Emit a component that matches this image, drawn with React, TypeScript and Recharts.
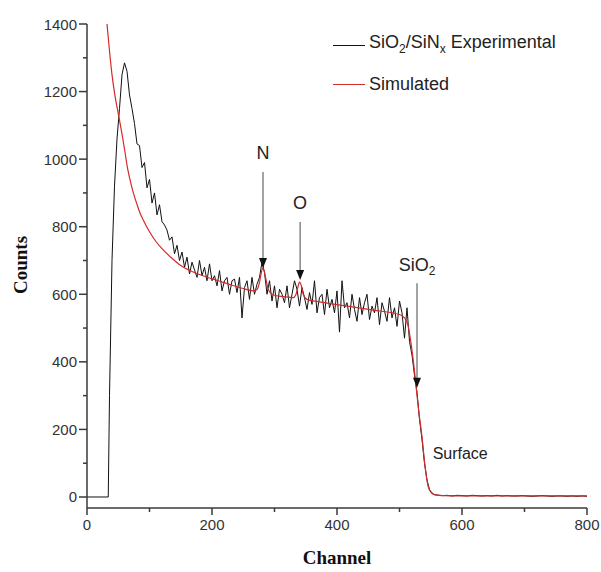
import { LineChart, Line, XAxis, YAxis, ReferenceLine, ReferenceDot, Label } from "recharts";

// experimental spectrum (black): flat start, then counts every 4 channels from 36, then tail every 8 channels from 560
const expLeadChannels = [0, 34];
const expLeadCounts = [0, 0];
const expStart = 36;
const expStep = 4;
const expCounts = [
  300, 700, 920, 1060, 1150, 1250, 1285, 1260, 1190, 1150,
  1105, 1045, 1040, 975, 990, 915, 940, 870, 900, 835,
  865, 815, 805, 790, 760, 770, 720, 745, 700, 725,
  680, 710, 660, 695, 672, 650, 700, 655, 680, 640,
  690, 640, 655, 625, 670, 610, 640, 650, 600, 640,
  645, 605, 650, 530, 620, 640, 585, 650, 600, 630,
  650, 695, 665, 600, 640, 580, 625, 560, 615, 600,
  575, 625, 560, 600, 640, 615, 565, 620, 590, 555,
  605, 570, 640, 545, 590, 600, 540, 615, 560, 585,
  545, 610, 488, 640, 560, 575, 530, 600, 555, 520,
  590, 540, 575, 600, 525, 565, 545, 590, 510, 575,
  550, 520, 590, 530, 560, 505, 580, 545, 470, 560,
  460, 420, 360, 310, 230, 170, 100, 50, 22, 12, 7,
];
const tailStart = 560;
const tailStep = 8;
const tailCounts = [
  6, 4, 5, 3, 5, 4, 3, 5, 4, 3, 4, 3, 5, 3, 4, 3,
  3, 4, 3, 2, 3, 4, 3, 2, 3, 3, 2, 3, 2, 3, 2,
];

// simulated spectrum (red)
const simChannels = [
  32, 36, 40, 45, 50, 55, 60, 65, 70, 75, 80, 85, 90, 100, 110, 120, 135, 150,
  170, 190, 210, 230, 250, 266, 272, 276, 279, 281, 284, 287, 290, 298, 315,
  330, 334, 337, 340, 343, 346, 352, 370, 405, 458, 500, 508, 514, 517, 521,
  525, 530, 536, 541, 546, 551, 557, 570, 600, 700, 800,
];
const simCounts = [
  1400, 1320, 1250, 1185, 1135, 1085, 1030, 972, 930, 895, 866, 840, 820, 785,
  757, 735, 708, 685, 666, 652, 640, 628, 617, 610, 614, 635, 665, 677, 665,
  638, 615, 598, 593, 590, 598, 618, 636, 625, 600, 585, 578, 568, 553, 540,
  530, 505, 473, 420, 355, 266, 178, 89, 30, 12, 6, 4, 3, 3, 3,
];

const xTicks = [0, 100, 200, 300, 400, 500, 600, 700, 800];
const yTicks = [0, 100, 200, 300, 400, 500, 600, 700, 800, 900, 1000, 1100, 1200, 1300, 1400];

const expData = [
  ...expLeadChannels.map((ch, i) => ({ ch, v: expLeadCounts[i] })),
  ...expCounts.map((v, i) => ({ ch: expStart + i * expStep, v })),
  ...tailCounts.map((v, i) => ({ ch: tailStart + i * tailStep, v })),
];
const simData = simChannels.map((ch, i) => ({ ch, v: simCounts[i] }));

const AXIS = "#3a3a3a";
const SANS = "'Liberation Sans', Arial, sans-serif";
const SERIF = "'Liberation Serif', 'Times New Roman', serif";

const XTick = ({ x, y, payload }: any) => {
  const major = payload.value % 200 === 0;
  return (
    <g>
      <line x1={x} x2={x} y1={y} y2={y + (major ? 7 : 4)} stroke={AXIS} strokeWidth={1.5} />
      {major && (
        <text x={x} y={y + 16} textAnchor="middle" dominantBaseline="central" fontSize={15} fill="#333" fontFamily={SANS}>
          {payload.value}
        </text>
      )}
    </g>
  );
};

const YTick = ({ x, y, payload }: any) => {
  const major = payload.value % 200 === 0;
  return (
    <g>
      <line x1={x} x2={x - (major ? 8 : 4)} y1={y} y2={y} stroke={AXIS} strokeWidth={1.5} />
      {major && (
        <text x={x - 10} y={y} textAnchor="end" dominantBaseline="central" fontSize={15} fill="#333" fontFamily={SANS}>
          {payload.value}
        </text>
      )}
    </g>
  );
};

const arrowHead = ({ cx, cy }: any) => (
  <polygon points={`${cx - 4},${cy - 10} ${cx + 4},${cy - 10} ${cx},${cy}`} fill="#111" />
);

const textAt = (content: React.ReactNode, size = 17, anchor = "middle") =>
  ({ cx, cy }: any) => (
    <text x={cx} y={cy} textAnchor={anchor} dominantBaseline="central" fontSize={size} fill="#222" fontFamily={SANS}>
      {content}
    </text>
  );

export default function App() {
  return (
    <div style={{ position: "absolute", left: 0, top: 0, width: 601, height: 572, background: "#fff" }}>
      <LineChart
        width={601}
        height={572}
        margin={{ top: 24, right: 14, bottom: 34, left: 27 }}
      >
        <XAxis
          dataKey="ch"
          type="number"
          domain={[0, 800]}
          ticks={xTicks}
          interval={0}
          allowDataOverflow
          tickSize={0}
          tickMargin={0}
          height={30}
          tick={<XTick />}
          axisLine={{ stroke: AXIS, strokeWidth: 1.5 }}
        >
          <Label
            content={() => (
              <text x={337} y={557} textAnchor="middle" dominantBaseline="central" fontSize={19} fontWeight="bold" fontFamily={SERIF} fill="#111">
                Channel
              </text>
            )}
          />
        </XAxis>
        <XAxis
          xAxisId="top"
          orientation="top"
          type="number"
          domain={[0, 800]}
          height={0}
          tick={false}
          tickLine={false}
          axisLine={{ stroke: AXIS, strokeWidth: 1.5 }}
        />
        <YAxis
          type="number"
          domain={[-32.6, 1400]}
          ticks={yTicks}
          interval={0}
          allowDataOverflow
          width={60}
          tickSize={0}
          tickMargin={0}
          tick={<YTick />}
          axisLine={{ stroke: AXIS, strokeWidth: 1.5 }}
        >
          <Label
            content={() => (
              <text x={20} y={265} transform="rotate(-90 20 265)" textAnchor="middle" dominantBaseline="central" fontSize={19} fontWeight="bold" fontFamily={SERIF} fill="#111">
                Counts
              </text>
            )}
          />
        </YAxis>
        <YAxis
          yAxisId="right"
          orientation="right"
          type="number"
          domain={[-32.6, 1400]}
          width={0}
          tick={false}
          tickLine={false}
          axisLine={{ stroke: AXIS, strokeWidth: 1.5 }}
        />

        <Line data={expData} dataKey="v" type="linear" stroke="#111" strokeWidth={1} dot={false} isAnimationActive={false} />
        <Line data={simData} dataKey="v" type="monotone" stroke="#d42a2a" strokeWidth={1.2} dot={false} isAnimationActive={false} />

        {/* N peak */}
        <ReferenceLine segment={[{ x: 281.6, y: 962 }, { x: 281.6, y: 700 }]} stroke="#666" strokeWidth={1.2} />
        <ReferenceDot x={281.6} y={678} shape={arrowHead} />
        <ReferenceDot x={281.6} y={1018} shape={textAt("N", 18)} />

        {/* O peak */}
        <ReferenceLine segment={[{ x: 341, y: 814 }, { x: 341, y: 665 }]} stroke="#666" strokeWidth={1.2} />
        <ReferenceDot x={341} y={642} shape={arrowHead} />
        <ReferenceDot x={341} y={870} shape={textAt("O", 18)} />

        {/* SiO2 edge */}
        <ReferenceLine segment={[{ x: 528, y: 633 }, { x: 528, y: 345 }]} stroke="#666" strokeWidth={1.2} />
        <ReferenceDot x={528} y={323} shape={arrowHead} />
        <ReferenceDot
          x={528}
          y={687}
          shape={textAt(
            <>
              <tspan>SiO</tspan>
              <tspan dy={6} fontSize={12}>2</tspan>
            </>,
            18
          )}
        />
        <ReferenceDot x={553} y={130} shape={textAt("Surface", 16, "start")} />
      </LineChart>

      <div style={{ position: "absolute", left: 333, top: 33, fontFamily: SANS, fontSize: 18, color: "#222", lineHeight: "24px" }}>
        <div style={{ display: "flex", alignItems: "center", height: 24 }}>
          <span style={{ display: "inline-block", width: 32, borderTop: "1.5px solid #111", marginRight: 4 }} />
          <span>
            SiO<sub style={{ fontSize: 12 }}>2</sub>/SiN<sub style={{ fontSize: 12 }}>x</sub> Experimental
          </span>
        </div>
        <div style={{ display: "flex", alignItems: "center", height: 24, marginTop: 15 }}>
          <span style={{ display: "inline-block", width: 32, borderTop: "1.5px solid #d42a2a", marginRight: 4 }} />
          <span>Simulated</span>
        </div>
      </div>
    </div>
  );
}
